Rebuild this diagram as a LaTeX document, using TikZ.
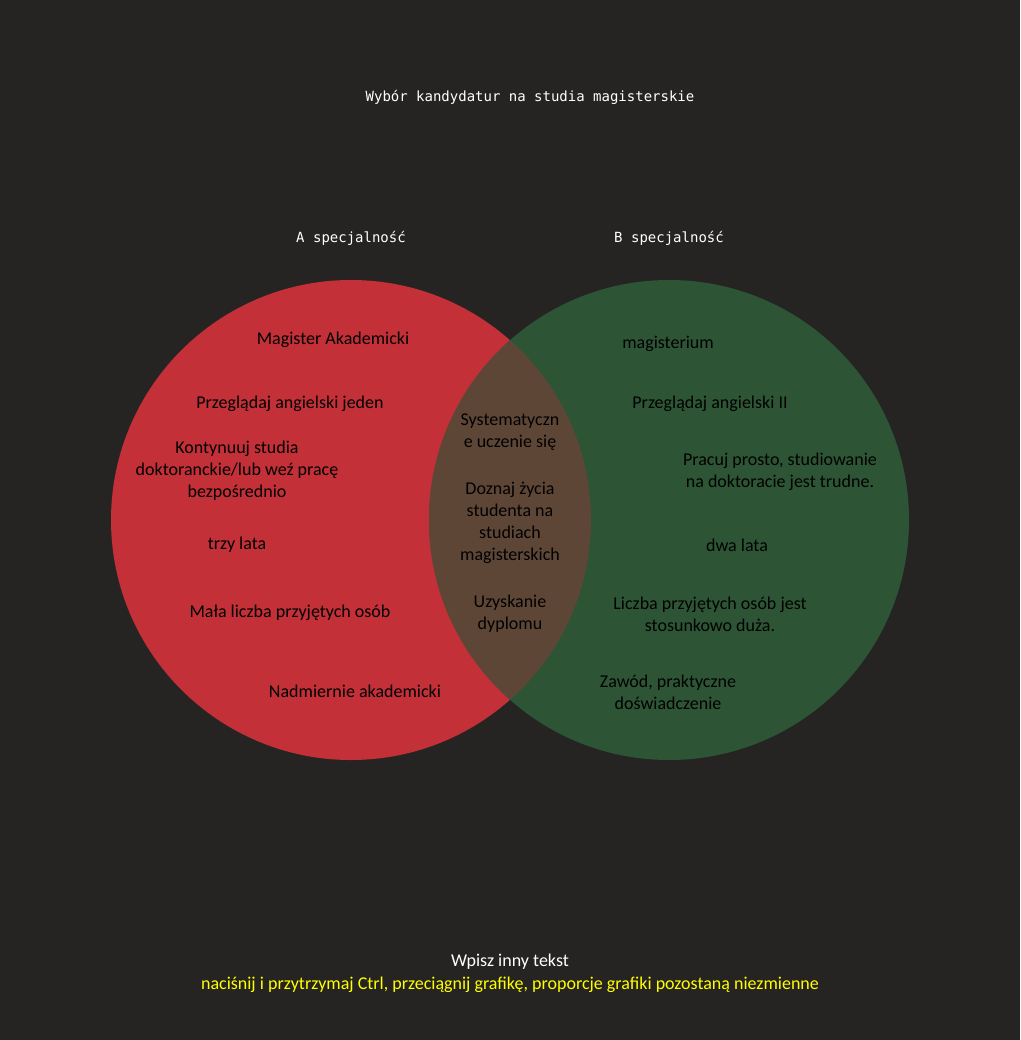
\documentclass[tikz,border=0pt]{standalone}
\usepackage{fontspec}
\setmainfont{Carlito}
\newfontfamily\monofont{DejaVu Sans Mono}
\definecolor{bg}{HTML}{252423}
\definecolor{cred}{HTML}{C33038}
\definecolor{cgreen}{HTML}{2D5535}
\definecolor{cmix}{HTML}{5E4637}
\definecolor{hint}{HTML}{FFFF00}
\begin{document}
\begin{tikzpicture}[x=1pt,y=1pt,
  lbl/.style={text=black,align=center,font=\fontsize{18}{22}\selectfont},
  head/.style={text=white,font=\monofont\fontsize{14}{17}\selectfont}]
\fill[bg] (0,0) rectangle (1020,-1040);
\useasboundingbox (0,0) rectangle (1020,-1040);
\fill[cred] (351,-520) circle (240);
\fill[cgreen] (669,-520) circle (240);
\begin{scope}
\clip (351,-520) circle (240);
\fill[cmix] (669,-520) circle (240);
\end{scope}
\node[head] (title) at (530,-97) {Wybór kandydatur na studia magisterskie};
\node[head] (ha) at (351,-238) {A specjalność};
\node[head] (hb) at (669,-238) {B specjalność};
\node[lbl] (a1) at (333,-340) {Magister Akademicki};
\node[lbl] (a2) at (290,-404) {Przeglądaj angielski jeden};
\node[lbl] (a3) at (237,-471) {Kontynuuj studia\\doktoranckie/lub weź pracę\\bezpośrednio};
\node[lbl] (a4) at (237,-545) {trzy lata};
\node[lbl] (a5) at (290,-613) {Mała liczba przyjętych osób};
\node[lbl] (a6) at (355,-691) {Nadmiernie akademicki};
\node[lbl] (m1) at (510,-432) {Systematyczn\\e uczenie się};
\node[lbl] (m2) at (510,-523) {Doznaj życia\\studenta na\\studiach\\magisterskich};
\node[lbl] (m3) at (510,-614) {Uzyskanie\\dyplomu};
\node[lbl] (b1) at (668,-344) {magisterium};
\node[lbl] (b2) at (710,-404) {Przeglądaj angielski II};
\node[lbl] (b3) at (780,-472) {Pracuj prosto, studiowanie\\na doktoracie jest trudne.};
\node[lbl] (b4) at (737,-545) {dwa lata};
\node[lbl] (b5) at (710,-614) {Liczba przyjętych osób jest\\stosunkowo duża.};
\node[lbl] (b6) at (668,-692) {Zawód, praktyczne\\doświadczenie};
\node[text=white,font=\fontsize{18}{22}\selectfont] (f1) at (510,-962) {Wpisz inny tekst};
\node[text=hint,font=\fontsize{18}{22}\selectfont] (f2) at (510,-985) {naciśnij i przytrzymaj Ctrl, przeciągnij grafikę, proporcje grafiki pozostaną niezmienne};
\end{tikzpicture}
\end{document}
